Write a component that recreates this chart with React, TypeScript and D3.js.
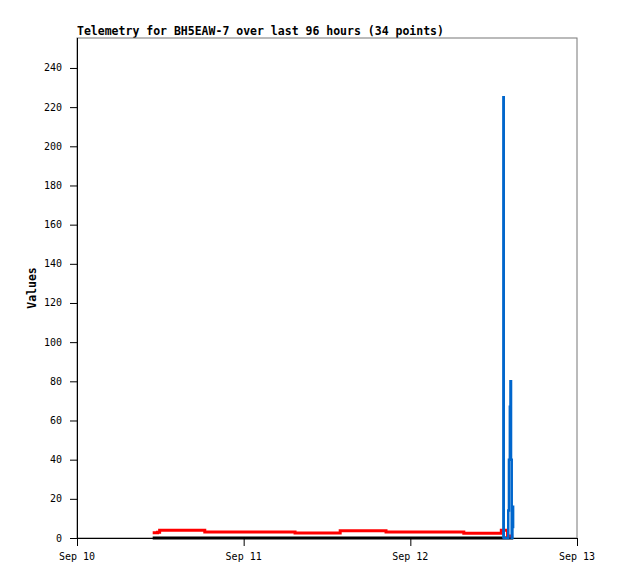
import * as d3 from 'd3'

// hours since Sep 10 00:00
const dayLabels = ['Sep 10', 'Sep 11', 'Sep 12', 'Sep 13']
const dayTicks = [0, 24, 48, 72]
const yTicks = [0, 20, 40, 60, 80, 100, 120, 140, 160, 180, 200, 220, 240]

const redTimes = [10.9, 11.6, 11.9, 18.4, 31.4, 37.9, 44.5, 55.7, 61.1, 62.0, 62.2, 62.8]
const redValues = [2.7, 3.0, 3.9, 3.1, 2.6, 3.7, 3.1, 2.4, 4.0, 1.0, 1.0, 1.0]

const blackTimes = [10.9, 62.8]
const blackValues = [0, 0]

const blueTimes = [61.3, 61.4, 61.45, 61.95, 62.1, 62.2, 62.33, 62.42, 62.5, 62.6, 62.7, 62.8]
const blueValues = [0, 225, 0, 0, 14, 40, 67, 80, 40, 0, 16, 5]

type P = [number, number]
const zip = (t: number[], v: number[]): P[] => t.map((d, i) => [d, v[i]])

export default function App() {
  const W = 618
  const H = 579
  const m = { top: 38, right: 41, bottom: 41, left: 77 }
  const x = d3.scaleLinear().domain([0, 72]).range([m.left, W - m.right])
  const y = d3.scaleLinear().domain([0, 255.3]).range([H - m.bottom, m.top])

  const step = d3
    .line<P>()
    .x(d => x(d[0]))
    .y(d => y(d[1]))
    .curve(d3.curveStepAfter)

  const mono = '"DejaVu Sans Mono", monospace'

  return (
    <svg
      width={W}
      height={H}
      style={{ position: 'absolute', left: 0, top: 0, background: '#fff' }}
    >
      <text
        x={m.left}
        y={35}
        fontFamily={mono}
        fontWeight="bold"
        fontSize={11.5}
        fill="#000"
      >
        Telemetry for BH5EAW-7 over last 96 hours (34 points)
      </text>
      {/* frame */}
      <rect
        x={m.left}
        y={m.top}
        width={W - m.left - m.right}
        height={H - m.top - m.bottom}
        fill="none"
        stroke="#777"
      />
      <line x1={m.left + 0.5} x2={m.left + 0.5} y1={m.top} y2={H - m.bottom} stroke="#000" />
      <line x1={m.left} x2={W - m.right} y1={H - m.bottom + 0.5} y2={H - m.bottom + 0.5} stroke="#000" />

      {yTicks.map(t => (
        <g key={t}>
          <line x1={m.left - 7} x2={m.left} y1={y(t) + 0.5} y2={y(t) + 0.5} stroke="#000" />
          <text
            x={m.left - 15}
            y={y(t)}
            dy="0.35em"
            textAnchor="end"
            fontFamily={mono}
            fontSize={10}
          >
            {t}
          </text>
        </g>
      ))}
      {dayTicks.map((t, i) => (
        <g key={t}>
          <line x1={x(t) + 0.5} x2={x(t) + 0.5} y1={H - m.bottom} y2={H - m.bottom + 8} stroke="#000" />
          <text
            x={x(t)}
            y={H - m.bottom + 22}
            textAnchor="middle"
            fontFamily={mono}
            fontSize={10}
          >
            {dayLabels[i]}
          </text>
        </g>
      ))}
      <text
        transform={`translate(36,${(m.top + H - m.bottom) / 2}) rotate(-90)`}
        textAnchor="middle"
        fontFamily={mono}
        fontWeight="bold"
        fontSize={11.5}
      >
        Values
      </text>

      <path d={step(zip(blackTimes, blackValues)) ?? ''} fill="none" stroke="#000" strokeWidth={3} />
      <path d={step(zip(redTimes, redValues)) ?? ''} fill="none" stroke="#f00" strokeWidth={3} />
      <path d={step(zip(blueTimes, blueValues)) ?? ''} fill="none" stroke="#0066cc" strokeWidth={2.5} />
    </svg>
  )
}
